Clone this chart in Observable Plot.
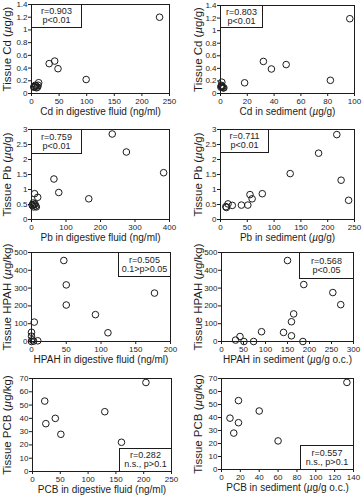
<!DOCTYPE html>
<html><head><meta charset="utf-8">
<script src="https://cdn.jsdelivr.net/npm/d3@7"></script>
<script src="https://cdn.jsdelivr.net/npm/@observablehq/plot@0.6"></script>
<style>
body{margin:0;background:#fff;}
#fig{position:relative;width:362px;height:500px;font-family:"Liberation Sans",Arial,sans-serif;}
#fig svg{position:absolute;overflow:visible;}
g[aria-label="x-axis label"] text{font-size:10px;}
g[aria-label="y-axis label"] text{font-size:11.5px;}
</style></head><body><div id="fig"></div><script>
// ---- data ----
const cdFluidX = [232, 32, 42, 48, 99, 13, 12, 8, 5, 6, 9, 11, 4, 7];
const cdFluidY = [1.2, 0.47, 0.51, 0.39, 0.22, 0.17, 0.13, 0.12, 0.11, 0.10, 0.09, 0.10, 0.10, 0.13];
const cdSedX = [96.5, 32, 38, 49, 82, 18, 1, 0.3, 1, 2, 0.5, 1.5, 0.8, 2.5];
const cdSedY = [1.19, 0.51, 0.39, 0.46, 0.21, 0.17, 0.18, 0.10, 0.11, 0.09, 0.12, 0.10, 0.13, 0.09];
const pbFluidX = [234, 275, 383, 65, 79, 166, 9, 18, 5, 10, 8, 3, 12, 6, 14, 2];
const pbFluidY = [2.85, 2.25, 1.56, 1.35, 0.90, 0.69, 0.86, 0.74, 0.55, 0.52, 0.50, 0.47, 0.45, 0.42, 0.42, 0.48];
const pbSedX = [217, 183, 130, 225, 239, 78, 55, 59, 14, 11, 10, 22, 39, 51];
const pbSedY = [2.83, 2.21, 1.53, 1.31, 0.64, 0.86, 0.83, 0.69, 0.52, 0.40, 0.43, 0.47, 0.48, 0.48];
const hpahFluidX = [46.5, 50, 50, 92, 110, 177, 4, 9, 0, 0, 1, 0, 3];
const hpahFluidY = [455, 318, 205, 151, 49, 272, 109, 4, 52, 30, 10, 0, 2];
const hpahSedX = [150, 187, 253, 271, 164, 159, 159, 141, 91, 42, 32, 51, 73, 185];
const hpahSedY = [455, 320, 275, 207, 155, 111, 32, 51, 55, 28, 8, 0, 0, 0];
const pcbFluidX = [204, 22, 130, 41, 24, 51, 160];
const pcbFluidY = [67, 53, 45, 40, 36, 28, 22];
const pcbSedX = [133, 18, 40, 9, 18, 13, 60];
const pcbSedY = [67, 53, 45, 39.5, 36, 28, 22];

const xLabels = ["Cd in digestive fluid (ng/ml)", "Cd in sediment (µg/g)", "Pb in digestive fluid (ng/ml)", "Pb in sediment (µg/g)",
  "HPAH in digestive fluid (ng/ml)", "HPAH in sediment (µg/g o.c.)", "PCB in digestive fluid (ng/ml)", "PCB in sediment (µg/g o.c.)"];
const yLabels = ["Tissue Cd (µg/g)", "Tissue Cd (µg/g)", "Tissue Pb (µg/g)", "Tissue Pb (µg/g)",
  "Tissue HPAH (µg/kg)", "Tissue HPAH (µg/kg)", "Tissue PCB (µg/kg)", "Tissue PCB (µg/kg)"];
const xTickSets = [[0,50,100,150,200,250],[0,20,40,60,80,100],[0,100,200,300,400],[0,50,100,150,200,250],
  [0,50,100,150,200],[0,50,100,150,200,250,300],[0,50,100,150,200,250],[0,20,40,60,80,100,120,140]];
const yTickSets = [[0,0.2,0.4,0.6,0.8,1,1.2,1.4],[0,0.2,0.4,0.6,0.8,1,1.2,1.4],[0,0.5,1,1.5,2,2.5,3],[0,0.5,1,1.5,2,2.5,3],
  [0,100,200,300,400,500],[0,100,200,300,400,500],[0,10,20,30,40,50,60,70],[0,10,20,30,40,50,60,70]];
const rValues = ["r=0.903","r=0.803","r=0.759","r=0.711","r=0.505","r=0.568","r=0.282","r=0.557"];
const pValues = ["p<0.01","p<0.01","p<0.01","p<0.01","0.1>p>0.05","p<0.05","n.s., p>0.1","n.s., p>0.1"];
const xSeries = [cdFluidX, cdSedX, pbFluidX, pbSedX, hpahFluidX, hpahSedX, pcbFluidX, pcbSedX];
const ySeries = [cdFluidY, cdSedY, pbFluidY, pbSedY, hpahFluidY, hpahSedY, pcbFluidY, pcbSedY];

// ---- layout ----
const layout = [
  {left:0,   top:0,   mL:31, mR:12, mT:4, mB:32, yOff:29, box:"top-left",     bw:50, bh:23},
  {left:181, top:0,   mL:39, mR:8,  mT:5, mB:32, yOff:27, box:"top-left",     bw:42, bh:22},
  {left:0,   top:125, mL:31, mR:12, mT:4, mB:31, yOff:29, box:"top-left",     bw:50, bh:24},
  {left:181, top:125, mL:39, mR:8,  mT:4, mB:31, yOff:27, box:"top-left",     bw:48, bh:23},
  {left:0,   top:250, mL:31, mR:11, mT:2, mB:34, yOff:29, box:"top-right",    bw:52, bh:24},
  {left:181, top:250, mL:40, mR:9,  mT:2, mB:34, yOff:28, box:"top-right",    bw:54, bh:26},
  {left:0,   top:375, mL:32, mR:10, mT:3, mB:29, yOff:30, box:"bottom-right", bw:52, bh:23},
  {left:181, top:375, mL:40, mR:9,  mT:3, mB:31, yOff:28, box:"bottom-right", bw:53, bh:24}
];

const fig = document.getElementById("fig");
const ink = "#1c1c1c";
const ns = "http://www.w3.org/2000/svg";

layout.forEach((L, i) => {
  const W = 181, H = 125;
  const iw = W - L.mL - L.mR, ih = H - L.mT - L.mB;
  const xt = xTickSets[i], yt = yTickSets[i];
  let inset, dx, dy;
  if (L.box === "top-left") { inset = {insetRight: iw - L.bw, insetBottom: ih - L.bh}; dx = L.bw/2; dy = L.bh/2; }
  else if (L.box === "top-right") { inset = {insetLeft: iw - L.bw, insetBottom: ih - L.bh}; dx = -L.bw/2; dy = L.bh/2; }
  else { inset = {insetLeft: iw - L.bw, insetTop: ih - L.bh}; dx = -L.bw/2; dy = -L.bh/2; }
  const chart = Plot.plot({
    width: W, height: H,
    marginLeft: L.mL, marginRight: L.mR, marginTop: L.mT, marginBottom: L.mB,
    style: {fontFamily: '"Liberation Sans", Arial, sans-serif', fontSize: "8px", background: "transparent", color: ink, overflow: "visible"},
    x: {domain: [xt[0], xt[xt.length-1]]},
    y: {domain: [yt[0], yt[yt.length-1]]},
    marks: [
      Plot.frame({stroke: ink, strokeWidth: 1}),
      Plot.axisX({ticks: xt, tickSize: 3, tickPadding: 2, tickFormat: d => String(d),
        label: xLabels[i], labelAnchor: "center", labelOffset: 21, labelArrow: false}),
      Plot.axisY({ticks: yt, tickSize: 3, tickPadding: 1, tickFormat: d => String(d),
        label: yLabels[i], labelAnchor: "center", labelOffset: L.yOff, labelArrow: false}),
      Plot.dot(xSeries[i], {x: xSeries[i], y: ySeries[i], r: 3.3, stroke: ink, strokeWidth: 1, fill: "none", clip: false}),
      Plot.frame({stroke: ink, strokeWidth: 1, fill: "white", ...inset}),
      Plot.text([rValues[i] + "\n" + pValues[i]], {text: d => d, frameAnchor: L.box, dx, dy,
        textAnchor: "middle", lineAnchor: "middle", lineHeight: 1.0, fontSize: 9, fill: ink, ariaLabel: "stats"})
    ]
  });
  chart.style.left = L.left + "px";
  chart.style.top = L.top + "px";
  fig.appendChild(chart);
  chart.querySelectorAll('g[aria-label="stats"], g[aria-label="stats"] text').forEach(el => el.setAttribute("text-anchor", "middle"));
  chart.querySelectorAll("text, tspan").forEach(t => {
    if (t.children.length === 0 && t.textContent.includes("µ")) {
      const parts = t.textContent.split("µ");
      t.textContent = "";
      parts.forEach((p, k) => {
        if (k > 0) { const ts = document.createElementNS(ns, "tspan"); ts.setAttribute("font-style", "italic"); ts.textContent = "µ"; t.appendChild(ts); }
        t.appendChild(document.createTextNode(p));
      });
    }
  });
});
</script></body></html>
